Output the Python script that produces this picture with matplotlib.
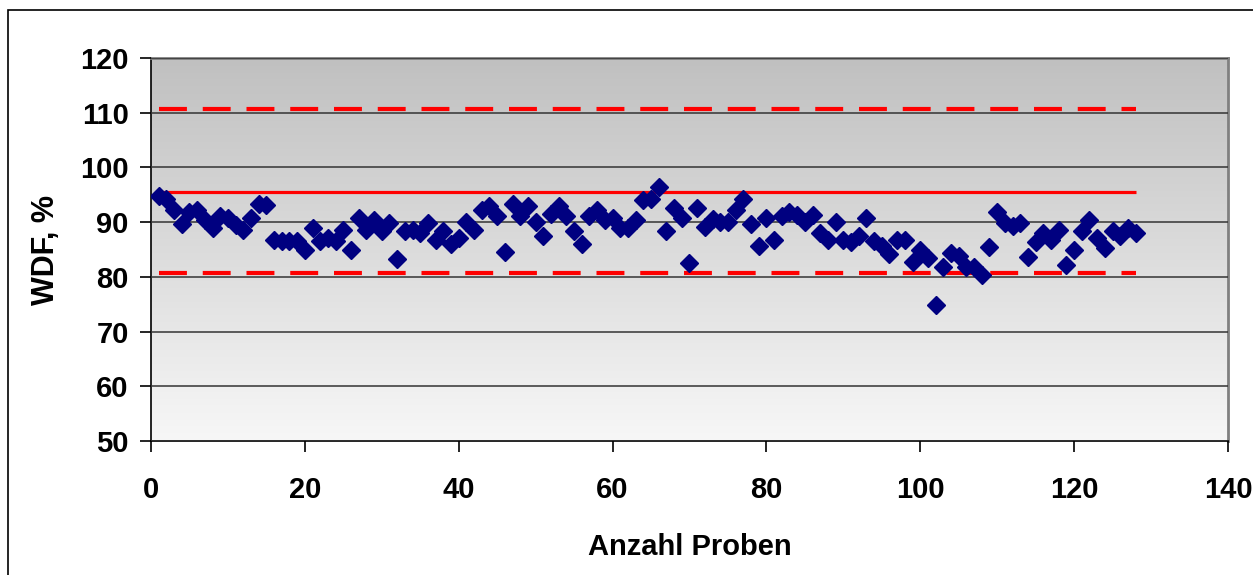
import numpy as np
import matplotlib.pyplot as plt
from matplotlib.patches import Rectangle

plt.rcParams['font.family'] = ['Liberation Sans', 'DejaVu Sans']
plt.rcParams['font.weight'] = 'bold'

# Data
probe = list(range(1, 129))
wdf = [94.8, 94.3, 92.2, 89.7, 91.8, 92.2, 90.4, 88.9, 91.1, 90.8,
       89.5, 88.6, 90.8, 93.4, 93.1, 86.7, 86.5, 86.5, 86.5, 84.9,
       89.0, 86.5, 87.1, 86.5, 88.6, 84.9, 90.7, 88.6, 90.4, 88.3,
       89.8, 83.2, 88.3, 88.6, 88.0, 89.8, 86.7, 88.3, 86.0, 87.1,
       90.1, 88.6, 92.2, 92.9, 91.1, 84.6, 93.3, 91.1, 92.9, 90.1,
       87.5, 91.5, 92.9, 91.1, 88.3, 86.1, 91.1, 92.2, 90.4, 90.8,
       88.9, 88.9, 90.4, 94.0, 94.3, 96.4, 88.3, 92.6, 90.8, 82.5,
       92.6, 89.2, 90.5, 90.1, 90.1, 92.2, 94.3, 89.7, 85.7, 90.8,
       86.7, 91.1, 91.9, 91.3, 90.1, 91.3, 88.1, 86.7, 90.1, 86.7,
       86.4, 87.5, 90.8, 86.5, 85.7, 84.2, 86.7, 86.7, 82.8, 84.9,
       83.5, 74.8, 81.8, 84.3, 83.9, 81.8, 81.8, 80.3, 85.4, 91.9,
       89.8, 89.3, 89.8, 83.6, 86.4, 88.0, 86.7, 88.6, 82.2, 85.0,
       88.3, 90.4, 87.1, 85.3, 88.3, 87.5, 89.0, 88.0]
upper_limit = 110.6
center_line = 95.45
lower_limit = 80.75
line_x = [1, 128]

fig = plt.figure(figsize=(12.53, 5.75), dpi=100)
ax = fig.add_axes([0.1205, 0.233, 0.8595, 0.666])

# outer chart border
fig.patches.append(Rectangle((8 / 1253, -0.1), 1.2, 1 - 10 / 575 + 0.1,
                             transform=fig.transFigure, fill=False,
                             edgecolor='black', linewidth=1.2))

# gray gradient background of plot area
grad = np.linspace(0, 1, 256).reshape(-1, 1)
ax.imshow(grad, cmap=plt.matplotlib.colors.LinearSegmentedColormap.from_list(
    'g', ['#f7f7f7', '#c0c0c0']), origin='lower', aspect='auto',
    extent=[0, 140, 50, 120], zorder=0)

ax.set_xlim(0, 140)
ax.set_ylim(50, 120)
ax.set_yticks(range(50, 121, 10))
ax.set_xticks(range(0, 141, 20))
ax.yaxis.grid(True, color='#333333', linewidth=1.1, zorder=1)
ax.set_axisbelow(False)

ax.plot(line_x, [upper_limit] * 2, color='red', linewidth=3,
        dashes=(6.7, 3.8), solid_capstyle='butt', dash_capstyle='butt', zorder=2)
ax.plot(line_x, [lower_limit] * 2, color='red', linewidth=3,
        dashes=(6.7, 3.8), solid_capstyle='butt', dash_capstyle='butt', zorder=2)
ax.plot(line_x, [center_line] * 2, color='red', linewidth=2.3,
        solid_capstyle='butt', zorder=2)

ax.plot(probe, wdf, linestyle='none', marker='D', markersize=9.5,
        color='#000080', markeredgecolor='#000080', zorder=3)

for s in ['top', 'right']:
    ax.spines[s].set_color('#808080')
    ax.spines[s].set_linewidth(2)
for s in ['left', 'bottom']:
    ax.spines[s].set_color('black')
    ax.spines[s].set_linewidth(1.2)

ax.tick_params(axis='both', direction='out', length=8, width=1.2,
               labelsize=21, colors='black')
ax.tick_params(axis='y', pad=8)
ax.tick_params(axis='x', pad=17)

ax.set_ylabel('WDF, %', fontsize=22, fontweight='bold', labelpad=14)
ax.set_xlabel('Anzahl Proben', fontsize=21, fontweight='bold', labelpad=21)

fig.savefig('out.png', dpi=100)
